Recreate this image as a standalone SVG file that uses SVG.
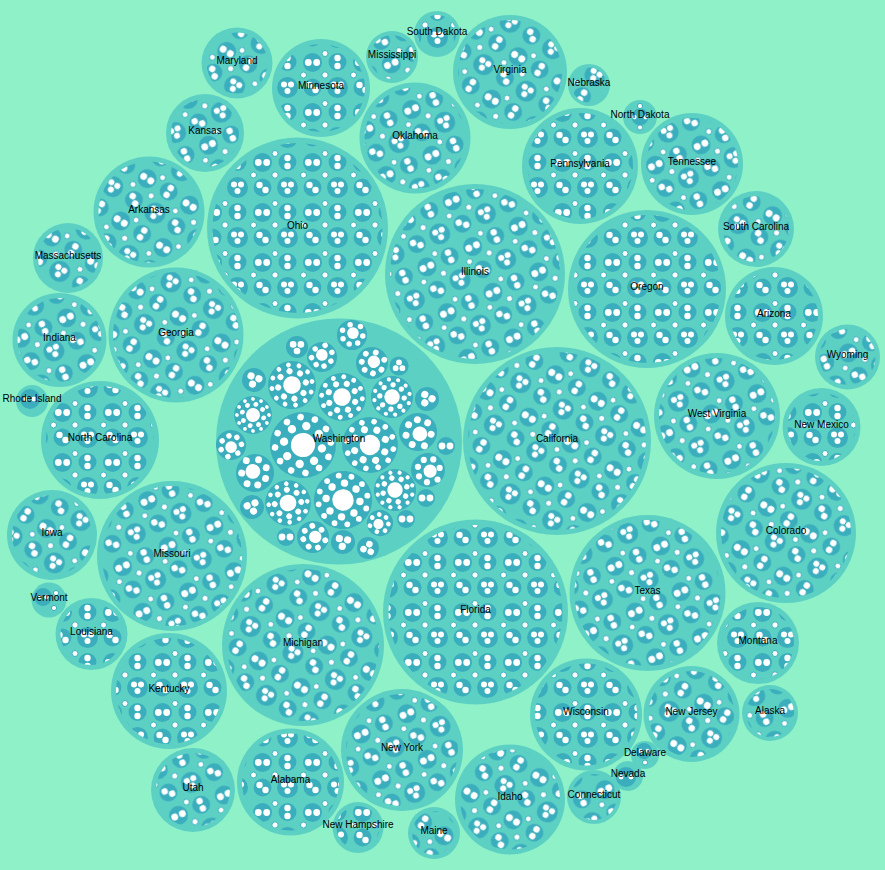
<svg xmlns="http://www.w3.org/2000/svg" width="885" height="870" viewBox="0 0 885 870">
<style>
.st{fill:#5dd0c4}
.dk{fill:#3aaebd}
.wt{fill:#fff;stroke:#3aaebd;stroke-width:1}
.w{fill:#fff}
.t1{fill:url(#p1)}
.t2{fill:url(#p2)}
.t3{fill:url(#p3)}
text{font-family:"Liberation Sans",Arial,Helvetica,sans-serif;font-size:10px;fill:#000;text-anchor:middle}
</style>
<defs>
<g id="tile">
<circle class="dk" cx="12.5" cy="12.5" r="9.5"/>
<circle class="w" cx="8.3" cy="12.5" r="3.4"/>
<circle class="w" cx="16.7" cy="12.5" r="3.4"/>
<circle class="dk" cx="37.5" cy="37.5" r="10.5"/>
<circle class="w" cx="34" cy="34.5" r="3"/>
<circle class="w" cx="41" cy="34.5" r="3"/>
<circle class="w" cx="37.5" cy="41" r="3"/>
<circle class="dk" cx="37.5" cy="12" r="9"/>
<circle class="w" cx="37.5" cy="8" r="3.2"/>
<circle class="w" cx="37.5" cy="16" r="3.2"/>
<circle class="dk" cx="12.5" cy="37.5" r="9"/>
<circle class="w" cx="9.5" cy="35" r="3.2"/>
<circle class="w" cx="15.5" cy="40" r="3.2"/>
<circle class="wt" cx="25" cy="25" r="3.2"/>
<circle class="wt" cx="25" cy="3.5" r="3"/>
<circle class="wt" cx="3.5" cy="25" r="3"/>
</g>
<pattern id="p1" patternUnits="userSpaceOnUse" width="50" height="50"><use href="#tile"/></pattern>
<pattern id="p2" patternUnits="userSpaceOnUse" width="50" height="50" patternTransform="rotate(32) translate(7 11)"><use href="#tile"/></pattern>
<pattern id="p3" patternUnits="userSpaceOnUse" width="50" height="50" patternTransform="rotate(-24) translate(19 5)"><use href="#tile"/></pattern>
<g id="gbig">
<circle class="dk" r="30"/>
<circle class="w" r="11"/>
<circle class="w" cx="17.5" cy="0" r="3.8"/><circle class="w" cx="12.4" cy="12.4" r="3.8"/><circle class="w" cx="0" cy="17.5" r="3.8"/><circle class="w" cx="-12.4" cy="12.4" r="3.8"/>
<circle class="w" cx="-17.5" cy="0" r="3.8"/><circle class="w" cx="-12.4" cy="-12.4" r="3.8"/><circle class="w" cx="0" cy="-17.5" r="3.8"/><circle class="w" cx="12.4" cy="-12.4" r="3.8"/>
<circle class="w" cx="24.6" cy="6.6" r="3"/><circle class="w" cx="18" cy="18" r="3"/><circle class="w" cx="6.6" cy="24.6" r="3"/><circle class="w" cx="-6.6" cy="24.6" r="3"/>
<circle class="w" cx="-18" cy="18" r="3"/><circle class="w" cx="-24.6" cy="6.6" r="3"/><circle class="w" cx="-24.6" cy="-6.6" r="3"/><circle class="w" cx="-18" cy="-18" r="3"/>
<circle class="w" cx="-6.6" cy="-24.6" r="3"/><circle class="w" cx="6.6" cy="-24.6" r="3"/><circle class="w" cx="18" cy="-18" r="3"/><circle class="w" cx="24.6" cy="-6.6" r="3"/>
</g>
<g id="gmed">
<circle class="dk" r="16"/>
<circle class="w" cx="-2" cy="-1" r="6.2"/>
<circle class="w" cx="8.5" cy="-6" r="2.9"/><circle class="w" cx="9.5" cy="3" r="2.9"/><circle class="w" cx="4" cy="9.5" r="2.9"/><circle class="w" cx="-5" cy="10" r="2.9"/>
<circle class="w" cx="-11" cy="2" r="2.9"/><circle class="w" cx="-9" cy="-9" r="2.9"/><circle class="w" cx="1" cy="-11.5" r="2.9"/>
</g>
<g id="g3">
<circle class="dk" r="12"/>
<circle class="w" cx="-4.2" cy="-2.8" r="3.6"/><circle class="w" cx="4.2" cy="-2.8" r="3.6"/><circle class="w" cx="0" cy="4.4" r="3.6"/>
</g>
<g id="g2">
<circle class="dk" r="9"/>
<circle class="w" cx="-4" cy="0" r="3.4"/><circle class="w" cx="4" cy="0" r="3.4"/>
</g>
</defs>
<rect width="885" height="870" fill="#8ef1c8"/>
<g id="nodes">
<g id="washington"><circle class="st" cx="339" cy="441.5" r="123"/>
<use href="#gbig" transform="translate(303 445) rotate(10) scale(1.1)"/>
<use href="#gbig" transform="translate(370 445) rotate(25) scale(0.93)"/>
<use href="#gbig" transform="translate(343 500) rotate(5) scale(0.97)"/>
<use href="#gbig" transform="translate(342 397) rotate(20) scale(0.8)"/>
<use href="#gbig" transform="translate(292 385) rotate(35) scale(0.8)"/>
<use href="#gbig" transform="translate(253 415) rotate(15) scale(0.63)"/>
<use href="#gbig" transform="translate(288 503) rotate(40) scale(0.76)"/>
<use href="#gmed" transform="translate(255 473) rotate(10) scale(1.19)"/>
<use href="#gbig" transform="translate(392 397) rotate(5) scale(0.7)"/>
<use href="#gmed" transform="translate(418 432) rotate(200) scale(1.19)"/>
<use href="#gmed" transform="translate(428 470) rotate(180) scale(1.06)"/>
<use href="#gbig" transform="translate(395 490) rotate(30) scale(0.7)"/>
<use href="#gmed" transform="translate(322 357) rotate(60) scale(0.94)"/>
<use href="#gmed" transform="translate(372 363) rotate(120) scale(1)"/>
<use href="#gmed" transform="translate(352 335) rotate(90) scale(0.94)"/>
<use href="#g3" transform="translate(297 347) scale(0.92)"/>
<use href="#g3" transform="translate(254 380) rotate(20) scale(1)"/>
<use href="#g3" transform="translate(399 366) rotate(180) scale(0.8)"/>
<use href="#g3" transform="translate(427 399) rotate(30) scale(1)"/>
<use href="#g2" transform="translate(446 446)"/>
<use href="#gmed" transform="translate(231 445) rotate(240) scale(0.94)"/>
<use href="#g3" transform="translate(252 507) rotate(-20) scale(1)"/>
<use href="#g2" transform="translate(426 498)"/>
<use href="#gmed" transform="translate(313 537) rotate(150) scale(1)"/>
<use href="#g2" transform="translate(286 537)"/>
<use href="#g3" transform="translate(343 542) rotate(10) scale(1)"/>
<use href="#gmed" transform="translate(380 523) rotate(300) scale(0.82)"/>
<use href="#g3" transform="translate(368 548) rotate(200) scale(0.92)"/>
<use href="#g2" transform="translate(406 519)"/>
<text x="339" y="442">Washington</text></g>
<g id="california"><circle class="st" cx="557" cy="441" r="94"/><circle class="t2" cx="557" cy="441" r="89"/><text x="557" y="441.5">California</text></g>
<g id="illinois"><circle class="st" cx="475" cy="274" r="90"/><circle class="t3" cx="475" cy="274" r="85"/><text x="475" y="274.5">Illinois</text></g>
<g id="ohio"><circle class="st" cx="297.5" cy="228" r="90.5"/><circle class="t1" cx="297.5" cy="228" r="85"/><text x="297.5" y="228.5">Ohio</text></g>
<g id="florida"><circle class="st" cx="475.5" cy="612" r="92.5"/><circle class="t1" cx="475.5" cy="612" r="87"/><text x="475.5" y="612.5">Florida</text></g>
<g id="oregon"><circle class="st" cx="647" cy="289" r="79"/><circle class="t1" cx="647" cy="289" r="74"/><text x="647" y="289.5">Oregon</text></g>
<g id="texas"><circle class="st" cx="647.5" cy="593" r="78"/><circle class="t3" cx="647.5" cy="593" r="73"/><text x="647.5" y="593.5">Texas</text></g>
<g id="michigan"><circle class="st" cx="303" cy="645" r="81"/><circle class="t2" cx="303" cy="645" r="76"/><text x="303" y="645.5">Michigan</text></g>
<g id="missouri"><circle class="st" cx="172" cy="556" r="75"/><circle class="t3" cx="172" cy="556" r="70"/><text x="172" y="556.5">Missouri</text></g>
<g id="georgia"><circle class="st" cx="176" cy="335" r="67.5"/><circle class="t2" cx="176" cy="335" r="63"/><text x="176" y="335.5">Georgia</text></g>
<g id="colorado"><circle class="st" cx="786" cy="533" r="70"/><circle class="t2" cx="786" cy="533" r="65"/><text x="786" y="533.5">Colorado</text></g>
<g id="west-virginia"><circle class="st" cx="717" cy="416" r="63"/><circle class="t3" cx="717" cy="416" r="58"/><text x="717" y="416.5">West Virginia</text></g>
<g id="north-carolina"><circle class="st" cx="100" cy="440" r="59"/><circle class="t1" cx="100" cy="440" r="54"/><text x="100" y="440.5">North Carolina</text></g>
<g id="new-york"><circle class="st" cx="402" cy="750" r="61"/><circle class="t3" cx="402" cy="750" r="56"/><text x="402" y="750.5">New York</text></g>
<g id="kentucky"><circle class="st" cx="169" cy="691" r="58"/><circle class="t1" cx="169" cy="691" r="53"/><text x="169" y="691.5">Kentucky</text></g>
<g id="virginia"><circle class="st" cx="510" cy="72" r="57"/><circle class="t2" cx="510" cy="72" r="52"/><text x="510" y="72.5">Virginia</text></g>
<g id="pennsylvania"><circle class="st" cx="580" cy="166" r="58"/><circle class="t1" cx="580" cy="166" r="53"/><text x="580" y="166.5">Pennsylvania</text></g>
<g id="oklahoma"><circle class="st" cx="415" cy="138" r="55.5"/><circle class="t3" cx="415" cy="138" r="50.5"/><text x="415" y="138.5">Oklahoma</text></g>
<g id="arkansas"><circle class="st" cx="149" cy="212" r="55.5"/><circle class="t2" cx="149" cy="212" r="50.5"/><text x="149" y="212.5">Arkansas</text></g>
<g id="idaho"><circle class="st" cx="510" cy="799.5" r="55"/><circle class="t2" cx="510" cy="799.5" r="50"/><text x="510" y="800">Idaho</text></g>
<g id="wisconsin"><circle class="st" cx="586" cy="714.5" r="56"/><circle class="t1" cx="586" cy="714.5" r="51"/><text x="586" y="715">Wisconsin</text></g>
<g id="alabama"><circle class="st" cx="290.5" cy="782" r="53.5"/><circle class="t1" cx="290.5" cy="782" r="48.5"/><text x="290.5" y="782.5">Alabama</text></g>
<g id="tennessee"><circle class="st" cx="692" cy="164" r="51"/><circle class="t3" cx="692" cy="164" r="46"/><text x="692" y="164.5">Tennessee</text></g>
<g id="minnesota"><circle class="st" cx="321" cy="88" r="49"/><circle class="t1" cx="321" cy="88" r="44"/><text x="321" y="88.5">Minnesota</text></g>
<g id="arizona"><circle class="st" cx="774" cy="316" r="49"/><circle class="t1" cx="774" cy="316" r="44"/><text x="774" y="316.5">Arizona</text></g>
<g id="new-jersey"><circle class="st" cx="691.5" cy="714" r="48"/><circle class="t2" cx="691.5" cy="714" r="43"/><text x="691.5" y="714.5">New Jersey</text></g>
<g id="indiana"><circle class="st" cx="59.5" cy="340" r="47"/><circle class="t3" cx="59.5" cy="340" r="42"/><text x="59.5" y="340.5">Indiana</text></g>
<g id="iowa"><circle class="st" cx="52" cy="535" r="45"/><circle class="t2" cx="52" cy="535" r="40"/><text x="52" y="535.5">Iowa</text></g>
<g id="utah"><circle class="st" cx="193" cy="790" r="42"/><circle class="t3" cx="193" cy="790" r="37"/><text x="193" y="790.5">Utah</text></g>
<g id="montana"><circle class="st" cx="758" cy="643" r="41"/><circle class="t1" cx="758" cy="643" r="36"/><text x="758" y="643.5">Montana</text></g>
<g id="new-mexico"><circle class="st" cx="821.5" cy="427" r="39"/><circle class="t1" cx="821.5" cy="427" r="34"/><text x="821.5" y="427.5">New Mexico</text></g>
<g id="kansas"><circle class="st" cx="205" cy="133" r="39"/><circle class="t3" cx="205" cy="133" r="34"/><text x="205" y="133.5">Kansas</text></g>
<g id="south-carolina"><circle class="st" cx="756" cy="229" r="38"/><circle class="t2" cx="756" cy="229" r="33"/><text x="756" y="229.5">South Carolina</text></g>
<g id="louisiana"><circle class="st" cx="91.5" cy="634" r="36"/><circle class="t1" cx="91.5" cy="634" r="31"/><text x="91.5" y="634.5">Louisiana</text></g>
<g id="maryland"><circle class="st" cx="237" cy="63" r="35.5"/><circle class="t2" cx="237" cy="63" r="30.5"/><text x="237" y="64">Maryland</text></g>
<g id="massachusetts"><circle class="st" cx="68" cy="258" r="35"/><circle class="t2" cx="68" cy="258" r="30"/><text x="68" y="258.5">Massachusetts</text></g>
<g id="wyoming"><circle class="st" cx="847.5" cy="357" r="32.5"/><circle class="t3" cx="847.5" cy="357" r="28"/><text x="847.5" y="357.5">Wyoming</text></g>
<g id="alaska"><circle class="st" cx="770" cy="713" r="28"/><circle class="t3" cx="770" cy="713" r="24"/><text x="770" y="713.5">Alaska</text></g>
<g id="connecticut"><circle class="st" cx="594" cy="797" r="27"/><circle class="t3" cx="594" cy="797" r="23"/><text x="594" y="797.5">Connecticut</text></g>
<g id="maine"><circle class="st" cx="434" cy="833" r="26"/><circle class="t2" cx="434" cy="833" r="22"/><text x="434" y="833.5">Maine</text></g>
<g id="mississippi"><circle class="st" cx="392" cy="57" r="26"/><circle class="t3" cx="392" cy="57" r="22"/><text x="392" y="57.5">Mississippi</text></g>
<g id="new-hampshire"><circle class="st" cx="358" cy="827.5" r="25.5"/><circle class="t1" cx="358" cy="827.5" r="21.5"/><text x="358" y="828">New Hampshire</text></g>
<g id="south-dakota"><circle class="st" cx="437" cy="34" r="23"/><circle class="t1" cx="437" cy="34" r="19"/><text x="437" y="34.5">South Dakota</text></g>
<g id="nebraska"><circle class="st" cx="589" cy="85" r="21"/><circle class="t2" cx="589" cy="85" r="17.5"/><text x="589" y="85.5">Nebraska</text></g>
<g id="vermont"><circle class="st" cx="49" cy="600" r="17.5"/><circle class="dk" cx="43" cy="597" r="9"/><circle class="wt" cx="39.5" cy="597" r="2.7"/><circle class="wt" cx="46.5" cy="597" r="2.7"/><circle class="wt" cx="54" cy="608" r="2.6"/><circle class="wt" cx="56" cy="593" r="2.6"/><text x="49" y="600.5">Vermont</text></g>
<g id="north-dakota"><circle class="st" cx="640" cy="117" r="17"/><circle class="dk" cx="640" cy="117" r="8.5"/><circle class="wt" cx="634.5" cy="117" r="2.7"/><circle class="wt" cx="645.5" cy="117" r="2.7"/><circle class="wt" cx="640" cy="106" r="2.6"/><circle class="wt" cx="640" cy="127.5" r="2.6"/><text x="640" y="117.5">North Dakota</text></g>
<g id="rhode-island"><circle class="st" cx="32" cy="401" r="16"/><circle class="dk" cx="30" cy="399" r="10"/><circle class="wt" cx="26" cy="399" r="3"/><circle class="wt" cx="34" cy="399" r="3"/><text x="32" y="401.5">Rhode Island</text></g>
<g id="nevada"><circle class="st" cx="628" cy="776" r="15"/><circle class="dk" cx="626" cy="777" r="10"/><circle class="wt" cx="621" cy="777" r="3"/><circle class="wt" cx="631" cy="777" r="3"/><text x="628" y="776.5">Nevada</text></g>
<g id="delaware"><circle class="st" cx="645" cy="755" r="14"/><circle class="dk" cx="644" cy="751" r="8"/><circle class="wt" cx="640.5" cy="751" r="2.6"/><circle class="wt" cx="647.5" cy="751" r="2.6"/><circle class="wt" cx="645" cy="762.5" r="2.5"/><text x="645" y="755.5">Delaware</text></g>
</g>
</svg>
